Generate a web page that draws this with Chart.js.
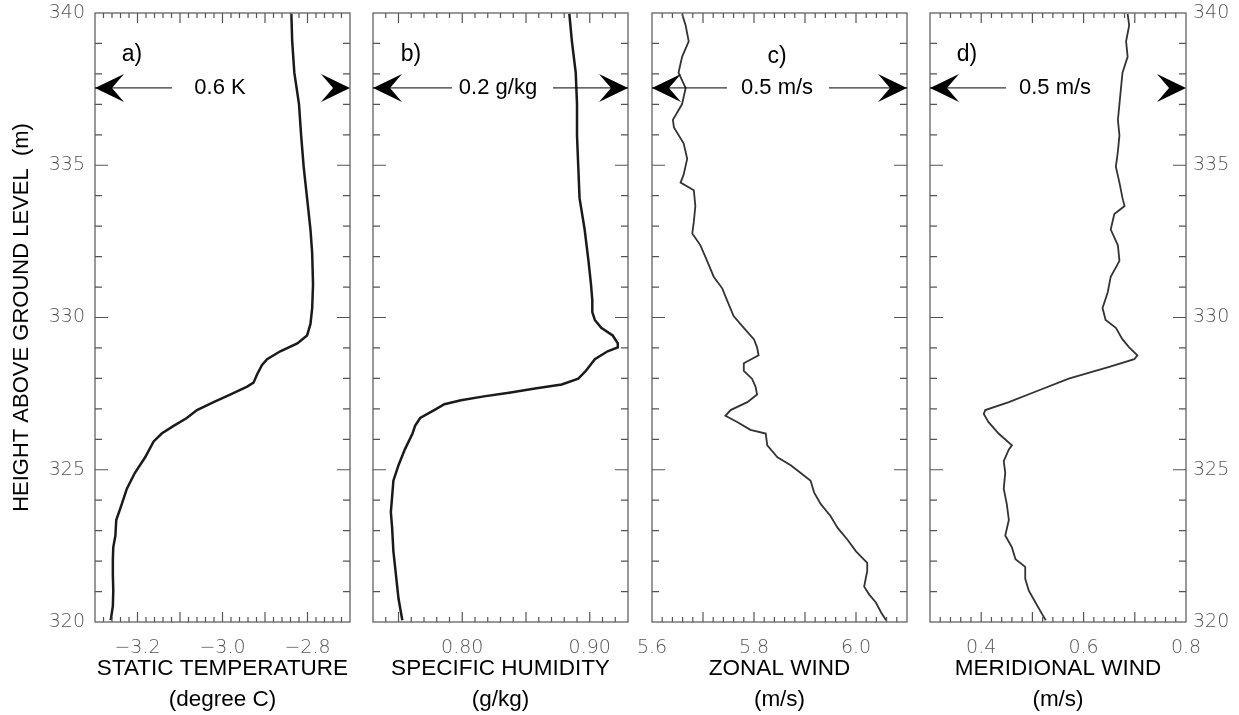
<!DOCTYPE html>
<html lang="en">
<head>
<meta charset="UTF-8">
<title>Vertical profiles</title>
<style>
  body { margin: 0; background: #fff; }
  #wrap { position: relative; width: 1239px; height: 715px; }
  #wrap canvas { position: absolute; left: 0; top: 0; }
</style>
</head>
<body>
<div id="wrap">
  <canvas id="panelA" width="1239" height="715"></canvas>
  <canvas id="panelB" width="1239" height="715"></canvas>
  <canvas id="panelC" width="1239" height="715"></canvas>
  <canvas id="panelD" width="1239" height="715"></canvas>
</div>
<script src="https://cdn.jsdelivr.net/npm/chart.js"></script>
<script>
// a) static temperature (degree C) vs height (m)
const tempHeight = [339.97, 339.07, 338.04, 337.01, 335.98, 334.95, 333.92, 332.89, 332.11, 331.08,
  330.31, 329.79, 329.41, 329.15, 328.89, 328.63, 328.44, 328.12, 327.86, 327.73,
  327.47, 327.22, 326.96, 326.70, 326.44, 326.19, 325.93, 325.41, 324.90, 324.38,
  323.87, 323.35, 322.84, 322.45, 322.06, 321.55, 321.03, 320.52, 320.06];
const tempValue = [-2.838, -2.836, -2.831, -2.820, -2.815, -2.809, -2.801, -2.793, -2.789, -2.787,
  -2.789, -2.793, -2.801, -2.824, -2.864, -2.895, -2.907, -2.919, -2.927, -2.942,
  -2.982, -3.021, -3.060, -3.084, -3.115, -3.143, -3.162, -3.182, -3.206, -3.225,
  -3.237, -3.250, -3.252, -3.257, -3.258, -3.258, -3.257, -3.258, -3.263];

// b) specific humidity (g/kg)
const humHeight = [339.97, 339.07, 338.04, 337.01, 335.98, 334.95, 333.92, 332.89, 331.86, 331.08,
  330.57, 330.18, 329.92, 329.66, 329.41, 329.15, 329.02, 328.89, 328.63, 328.25,
  327.99, 327.80, 327.67, 327.54, 327.41, 327.28, 327.15, 326.96, 326.70, 326.44,
  326.19, 325.67, 325.15, 324.64, 324.12, 323.61, 323.09, 322.32, 321.55, 320.77, 320.06];
const humValue = [0.884, 0.886, 0.889, 0.890, 0.890, 0.891, 0.892, 0.896, 0.899, 0.901,
  0.902, 0.902, 0.904, 0.909, 0.918, 0.922, 0.922, 0.914, 0.904, 0.897,
  0.891, 0.878, 0.857, 0.838, 0.817, 0.799, 0.786, 0.778, 0.767, 0.763,
  0.761, 0.755, 0.750, 0.746, 0.745, 0.744, 0.745, 0.746, 0.748, 0.750, 0.753];

// c) zonal wind (m/s)
const zonalHeight = [339.97, 339.59, 339.07, 338.56, 338.04, 337.53, 337.01, 336.49, 336.24, 335.72,
  335.21, 334.69, 334.43, 334.18, 333.66, 333.14, 332.76, 332.37, 331.86, 331.34,
  330.95, 330.57, 330.05, 329.66, 329.28, 329.02, 328.76, 328.50, 328.25, 327.99,
  327.73, 327.47, 327.22, 326.96, 326.77, 326.57, 326.31, 326.19, 325.80, 325.41,
  325.15, 324.90, 324.64, 324.25, 323.87, 323.48, 323.09, 322.71, 322.32, 321.94,
  321.68, 321.42, 321.16, 320.90, 320.64, 320.32, 320.06];
const zonalValue = [5.659, 5.666, 5.672, 5.659, 5.652, 5.666, 5.659, 5.641, 5.643, 5.662,
  5.669, 5.662, 5.656, 5.682, 5.685, 5.682, 5.679, 5.695, 5.708, 5.721,
  5.738, 5.747, 5.760, 5.780, 5.800, 5.806, 5.809, 5.780, 5.780, 5.796,
  5.803, 5.806, 5.787, 5.754, 5.744, 5.767, 5.793, 5.823, 5.826, 5.846,
  5.872, 5.891, 5.911, 5.918, 5.931, 5.950, 5.964, 5.983, 6.000, 6.022,
  6.022, 6.019, 6.016, 6.026, 6.039, 6.049, 6.059];

// d) meridional wind (m/s)
const meridHeight = [339.97, 339.59, 339.07, 338.56, 338.04, 337.53, 337.01, 336.49, 335.98, 335.46,
  334.95, 334.43, 333.92, 333.66, 333.40, 332.89, 332.37, 331.86, 331.34, 330.82,
  330.31, 329.92, 329.66, 329.28, 329.02, 328.76, 328.63, 328.38, 327.99, 327.61,
  327.22, 326.96, 326.83, 326.57, 326.19, 325.80, 325.67, 325.28, 324.90, 324.38,
  323.87, 323.35, 322.84, 322.45, 322.06, 321.81, 321.42, 321.03, 320.64, 320.26, 320.06];
const meridValue = [0.686, 0.689, 0.683, 0.686, 0.676, 0.673, 0.670, 0.667, 0.670, 0.667,
  0.663, 0.670, 0.676, 0.680, 0.660, 0.653, 0.667, 0.670, 0.653, 0.647,
  0.637, 0.643, 0.663, 0.676, 0.689, 0.705, 0.699, 0.650, 0.571, 0.513,
  0.454, 0.408, 0.405, 0.414, 0.434, 0.460, 0.454, 0.444, 0.447, 0.444,
  0.450, 0.454, 0.447, 0.460, 0.467, 0.486, 0.486, 0.493, 0.506, 0.519, 0.526];

const heightTicks = [320, 325, 330, 335, 340];
const tempTicks = [-3.2, -3.0, -2.8];
const humTicks = [0.80, 0.90];
const zonalTicks = [5.6, 5.8, 6.0];
const meridTicks = [0.4, 0.6, 0.8];

const sans = "'Liberation Sans', Arial, sans-serif";
const tickFont = { family: "'DejaVu Sans', sans-serif", size: 19, weight: '300' };
const titleFont = { family: sans, size: 22.5, lineHeight: '31px' };

function fmt(v, d) {
  return (v < 0 ? '\u2212' : '') + Math.abs(v).toFixed(d);
}

// frame, inward ticks, scale arrow and panel letter
const decor = {
  id: 'decor',
  afterDraw(chart, args, o) {
    const { ctx, chartArea: a, scales: { x, y } } = chart;
    ctx.save();
    ctx.strokeStyle = '#555';
    ctx.lineWidth = 1.2;
    ctx.strokeRect(a.left, a.top, a.right - a.left, a.bottom - a.top);

    ctx.beginPath();
    for (let h = 321; h < 340; h++) {
      const py = y.getPixelForValue(h);
      const len = h % 5 === 0 ? 13 : 7;
      ctx.moveTo(a.left, py); ctx.lineTo(a.left + len, py);
      ctx.moveTo(a.right, py); ctx.lineTo(a.right - len, py);
    }
    const n = Math.round((x.max - x.min) / o.minor);
    for (let i = 1; i < n; i++) {
      const v = x.min + i * o.minor;
      const r = v / o.major;
      const len = Math.abs(r - Math.round(r)) < 1e-6 ? 10 : 5;
      const px = x.getPixelForValue(v);
      ctx.moveTo(px, a.bottom); ctx.lineTo(px, a.bottom - len);
      ctx.moveTo(px, a.top); ctx.lineTo(px, a.top + len);
    }
    ctx.stroke();

    // scale arrow
    const ay = y.getPixelForValue(337.54);
    ctx.fillStyle = '#000';
    ctx.strokeStyle = '#000';
    ctx.lineWidth = 1;
    const head = (tip, dir) => {
      ctx.beginPath();
      ctx.moveTo(tip, ay);
      ctx.lineTo(tip + dir * 29, ay - 14);
      ctx.lineTo(tip + dir * 17, ay);
      ctx.lineTo(tip + dir * 29, ay + 14);
      ctx.closePath();
      ctx.fill();
    };
    head(a.left, 1);
    head(a.right, -1);
    ctx.beginPath();
    o.lines.forEach(([s, e]) => {
      ctx.moveTo(a.left + s, ay); ctx.lineTo(a.left + e, ay);
    });
    ctx.stroke();
    ctx.font = "22px " + sans;
    ctx.textAlign = 'center';
    ctx.textBaseline = 'middle';
    ctx.fillText(o.text, a.left + 125, ay);
    ctx.font = "23px " + sans;
    ctx.fillText(o.letter, a.left + o.letterX, y.getPixelForValue(o.letterH));
    ctx.restore();
  }
};

function xScale(min, max, ticks, dec, title) {
  return {
    type: 'linear', position: 'bottom', min: min, max: max,
    grid: { display: false, drawTicks: false },
    border: { display: false },
    afterBuildTicks: s => { s.ticks = ticks.map(v => ({ value: v })); },
    afterFit: s => { s.height = 93; s.paddingLeft = 0; s.paddingRight = 0; },
    ticks: { padding: 15, color: '#555', font: tickFont, autoSkip: false, maxRotation: 0,
             callback: v => fmt(v, dec) },
    title: { display: true, text: title, color: '#000', font: titleFont, padding: 0 }
  };
}

function yScale(pos, width) {
  return {
    type: 'linear', min: 320, max: 340, display: pos !== null,
    position: pos || 'left',
    grid: { display: false, drawTicks: false },
    border: { display: false },
    afterBuildTicks: sc => { sc.ticks = heightTicks.map(v => ({ value: v })); },
    afterFit: sc => {
      if (width) sc.width = width;
      sc.paddingTop = 0; sc.paddingBottom = 0;
    },
    ticks: { padding: pos === 'right' ? 7 : 10, color: '#555', font: tickFont, autoSkip: false }
  };
}

function makePanel(id, heights, values, lineWidth, color, pad, xs, ys, deco) {
  new Chart(document.getElementById(id), {
    type: 'scatter',
    data: {
      datasets: [{
        data: heights.map((h, i) => ({ x: values[i], y: h })),
        showLine: true,
        borderColor: color,
        borderWidth: lineWidth,
        pointRadius: 0,
        tension: 0
      }]
    },
    options: {
      responsive: false,
      animation: false,
      events: [],
      layout: { padding: pad },
      scales: { x: xs, y: ys },
      plugins: { legend: { display: false }, tooltip: { enabled: false }, decor: deco }
    },
    plugins: [decor]
  });
}

const yA = yScale('left', 95);
yA.title = { display: true, text: 'HEIGHT ABOVE GROUND LEVEL  (m)', color: '#000',
             font: { family: sans, size: 22 }, padding: { top: 9, bottom: 0 } };

makePanel('panelA', tempHeight, tempValue, 2.5, '#1a1a1a',
  { left: 0, right: 1239 - 350, top: 13, bottom: 0 },
  xScale(-3.3, -2.7, tempTicks, 1, ['STATIC TEMPERATURE', '(degree C)']), yA,
  { minor: 0.02, major: 0.1, lines: [[0, 77]], text: '0.6 K', letter: 'a)', letterX: 37, letterH: 338.62 });

makePanel('panelB', humHeight, humValue, 2.5, '#1a1a1a',
  { left: 373, right: 1239 - 628, top: 13, bottom: 0 },
  xScale(0.73, 0.93, humTicks, 2, ['SPECIFIC HUMIDITY', '(g/kg)']), yScale(null),
  { minor: 0.01, major: 0.05, lines: [[0, 79], [180, 255]], text: '0.2 g/kg', letter: 'b)', letterX: 38, letterH: 338.62 });

makePanel('panelC', zonalHeight, zonalValue, 1.8, '#333',
  { left: 652, right: 1239 - 907, top: 13, bottom: 0 },
  xScale(5.6, 6.1, zonalTicks, 1, ['ZONAL WIND', '(m/s)']), yScale(null),
  { minor: 0.02, major: 0.1, lines: [[0, 75], [177, 255]], text: '0.5 m/s', letter: 'c)', letterX: 125, letterH: 338.55 });

makePanel('panelD', meridHeight, meridValue, 1.8, '#333',
  { left: 930, right: 0, top: 13, bottom: 0 },
  xScale(0.3, 0.8, meridTicks, 1, ['MERIDIONAL WIND', '(m/s)']), yScale('right', 53),
  { minor: 0.02, major: 0.1, lines: [[0, 76]], text: '0.5 m/s', letter: 'd)', letterX: 37, letterH: 338.62 });
</script>
</body>
</html>
